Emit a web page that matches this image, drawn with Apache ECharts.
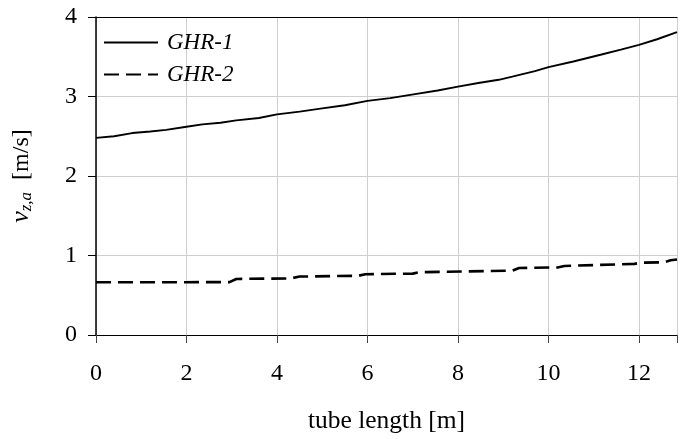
<!DOCTYPE html>
<html><head><meta charset="utf-8">
<script src="https://cdn.jsdelivr.net/npm/echarts@6/dist/echarts.min.js"></script>
<style>html,body{margin:0;padding:0;background:#fff}#c{width:680px;height:439px}</style>
</head><body><div id="c"></div>
<script>
const seriesNames = ['GHR-1', 'GHR-2'];
const ghr1X = [0, 0.4, 0.8, 1.2, 1.55, 2.0, 2.35, 2.75, 3.1, 3.6, 4.0, 4.5, 5.0, 5.5, 6.0, 6.5, 7.05, 7.55, 8.0, 8.45, 8.9, 9.2, 9.7, 10.0, 10.55, 11.15, 11.6, 12.0, 12.4, 12.84];
const ghr1Y = [2.48, 2.50, 2.54, 2.56, 2.58, 2.62, 2.65, 2.67, 2.70, 2.73, 2.775, 2.81, 2.85, 2.89, 2.945, 2.98, 3.03, 3.075, 3.125, 3.17, 3.21, 3.25, 3.32, 3.37, 3.44, 3.525, 3.59, 3.65, 3.72, 3.81];
const ghr2X = [0, 2.95, 3.1, 4.3, 4.5, 5.8, 5.95, 7.0, 7.15, 9.2, 9.35, 10.2, 10.35, 11.9, 12.05, 12.55, 12.7, 12.84];
const ghr2Y = [0.663, 0.665, 0.705, 0.712, 0.735, 0.745, 0.765, 0.772, 0.79, 0.81, 0.843, 0.85, 0.868, 0.895, 0.91, 0.915, 0.94, 0.95];
const xTicks = [0, 2, 4, 6, 8, 10, 12];
const yTicks = [0, 1, 2, 3, 4];

const font = 'Liberation Serif';
const chart = echarts.init(document.getElementById('c'));
chart.setOption({
  animation: false,
  backgroundColor: '#fff',
  grid: {left: 96, top: 17, right: 0, bottom: 102, containLabel: false},
  legend: {
    left: 98, top: 26, orient: 'vertical', itemGap: 9, itemWidth: 54, itemHeight: 12,
    itemStyle: {opacity: 0},
    textStyle: {fontFamily: font, fontSize: 23, fontStyle: 'italic', color: '#000', padding: [0,0,0,4]},
    data: seriesNames
  },
  xAxis: [{
    type: 'value', min: 0, max: 12.84, interval: 2,
    axisLine: {show: true, lineStyle: {color: '#000', width: 1.2}},
    axisTick: {show: true, length: 8, lineStyle: {color: '#444'}},
    axisLabel: {margin: 27, fontFamily: font, fontSize: 24, color: '#000',
      formatter: v => xTicks.includes(v) ? String(v) : ''},
    splitLine: {show: true, lineStyle: {color: '#cfcfcf', width: 1}},
    name: 'tube length [m]', nameLocation: 'middle', nameGap: 73,
    nameTextStyle: {fontFamily: font, fontSize: 25.5, color: '#000'}
  }, {
    type: 'value', position: 'top', min: 0, max: 12.84, interval: 2,
    axisLine: {show: true, lineStyle: {color: '#000', width: 1.2}},
    axisTick: {show: false}, axisLabel: {show: false}, splitLine: {show: false}
  }],
  yAxis: {
    type: 'value', min: 0, max: 4, interval: 1,
    axisLine: {show: true, lineStyle: {color: '#000', width: 1.5}},
    axisTick: {show: true, length: 8, inside: false, lineStyle: {color: '#000'}},
    axisLabel: {margin: 19, fontFamily: font, fontSize: 24, color: '#000',
      formatter: v => yTicks.includes(v) ? String(v) : ''},
    splitLine: {show: true, lineStyle: {color: '#cfcfcf', width: 1}},
    name: '{v|v}{s|z,a}{n|  [m/s]}', nameLocation: 'middle', nameGap: 61,
    nameTextStyle: {fontFamily: font, fontSize: 24, color: '#000',
      rich: {
        v: {fontFamily: font, fontSize: 26, fontStyle: 'italic', color: '#000'},
        s: {fontFamily: font, fontSize: 17, fontStyle: 'italic', color: '#000', verticalAlign: 'bottom', padding: [10,0,0,0]},
        n: {fontFamily: font, fontSize: 24, color: '#000'}
      }}
  },
  series: [{
    name: seriesNames[0], type: 'line', symbol: 'none', xAxisIndex: 0,
    data: ghr1X.map((x, i) => [x, ghr1Y[i]]),
    lineStyle: {color: '#000', width: 1.9}, itemStyle: {color: '#000'}
  }, {
    name: seriesNames[1], type: 'line', symbol: 'none', xAxisIndex: 0,
    data: ghr2X.map((x, i) => [x, ghr2Y[i]]),
    lineStyle: {color: '#000', width: 2.6, type: [15, 7]}, itemStyle: {color: '#000'}
  }]
});
</script></body></html>
